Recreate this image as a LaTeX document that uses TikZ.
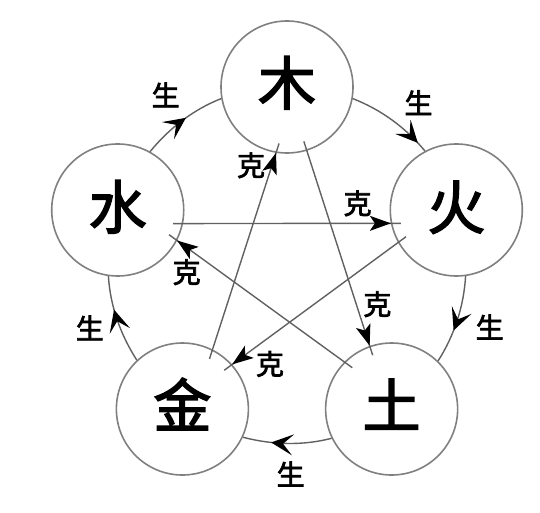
\documentclass[tikz,border=0pt]{standalone}
\usepackage{fontspec}
\setmainfont{Noto Sans CJK SC}
\newfontfamily\heavy{Noto Sans CJK SC}[FakeBold=2.5]
\usepackage{tikz}
\usetikzlibrary{calc,arrows.meta,decorations.markings}

\tikzset{
	elem/.style={circle,draw=black!50,line width=1.6pt,minimum size=132pt,inner sep=0pt,font=\heavy\fontsize{58}{58}\selectfont},
	link/.style={draw=black!62,line width=1.4pt},
	kehead/.style={postaction={decorate},decoration={markings,mark=at position -10pt with {\arrow{Stealth[length=21pt,width=15pt,inset=5pt,color=black]}}}},
	shenghead/.style={postaction={decorate},decoration={markings,mark=at position #1 with {\arrow{Stealth[length=22pt,width=21pt,inset=10pt,color=black]}}}},
	tag/.style={font=\heavy\fontsize{28}{28}\selectfont,inner sep=0pt}
}

\begin{document}
\begin{tikzpicture}[x=1pt,y=1pt]
	\useasboundingbox[fill=white](0,0) rectangle (540,512);
	\coordinate(O) at(287,247);
	
	\node[elem](mu) at($(O)+(90:178)$){\raisebox{13pt}{木}};
	\node[elem](huo) at($(O)+(18:178)$){\raisebox{10pt}{火}};
	\node[elem](tu) at($(O)+(-54:178)$){\raisebox{12pt}{土}};
	\node[elem](jin) at($(O)+(234:178)$){\raisebox{13pt}{金}};
	\node[elem](shui) at($(O)+(162:178)$){\raisebox{11pt}{水}};
	
	% sheng cycle
	\draw[link,shenghead=.55](shui.61.3) to[out=50.6,in=201.4,looseness=.87] (mu.190.7);
	\draw[link,shenghead=.88](mu.-10.7) to[out=-21.4,in=129.4,looseness=.87] (huo.118.7);
	\draw[link,shenghead=.62](huo.-82.7) to[out=-93.4,in=57.4,looseness=.87] (tu.46.7);
	\draw[link,shenghead=.68](tu.-154.7) to[out=-165.4,in=-14.6,looseness=.87] (jin.-25.3);
	\draw[link,shenghead=.62](jin.133.3) to[out=122.6,in=273.4,looseness=.87] (shui.262.7);
	\node[tag](s1) at($(O)+(125.5:209)$){生};
	\node[tag](s2) at($(O)+(51:209)$){生};
	\node[tag](s3) at($(O)+(-17:212)$){生};
	\node[tag](s4) at($(O)+(-89:209)$){生};
	\node[tag](s5) at($(O)+(197.7:207)$){生};
	
	% ke cycle
	\coordinate(k1s) at($(mu)+(-72.8:57)$);
	\coordinate(k1e) at($(tu)+(109.4:57)$);
	\coordinate(k2s) at($(tu)+(133.6:57)$);
	\coordinate(k2e) at($(shui)+(-25.7:57)$);
	\coordinate(k3s) at($(shui)+(-13.8:57)$);
	\coordinate(k3e) at($(huo)+(193.5:57)$);
	\coordinate(k4s) at($(huo)+(208:57)$);
	\coordinate(k4e) at($(jin)+(42.8:57)$);
	\coordinate(k5s) at($(jin)+(61.6:57)$);
	\coordinate(k5e) at($(mu)+(262:57)$);
	
	\draw[link,kehead](k1s) -- (k1e);
	\draw[link,kehead](k2s) -- (k2e);
	\draw[link,kehead](k3s) -- (k3e);
	\draw[link,kehead](k4s) -- (k4e);
	\draw[link,kehead](k5s) -- (k5e);
	\node[tag](t1) at($(k1s)!.79!(k1e)!20pt!90:(k1e)$){克};
	\node[tag](t2) at($(k2s)!.84!(k2e)!20pt!90:(k2e)$){克};
	\node[tag](t3) at($(k3s)!.81!(k3e)!20pt!90:(k3e)$){克};
	\node[tag](t4) at($(k4s)!.82!(k4e)!22pt!90:(k4e)$){克};
	\node[tag](t5) at($(k5s)!.87!(k5e)!20pt!90:(k5e)$){克};
\end{tikzpicture}
\end{document}
